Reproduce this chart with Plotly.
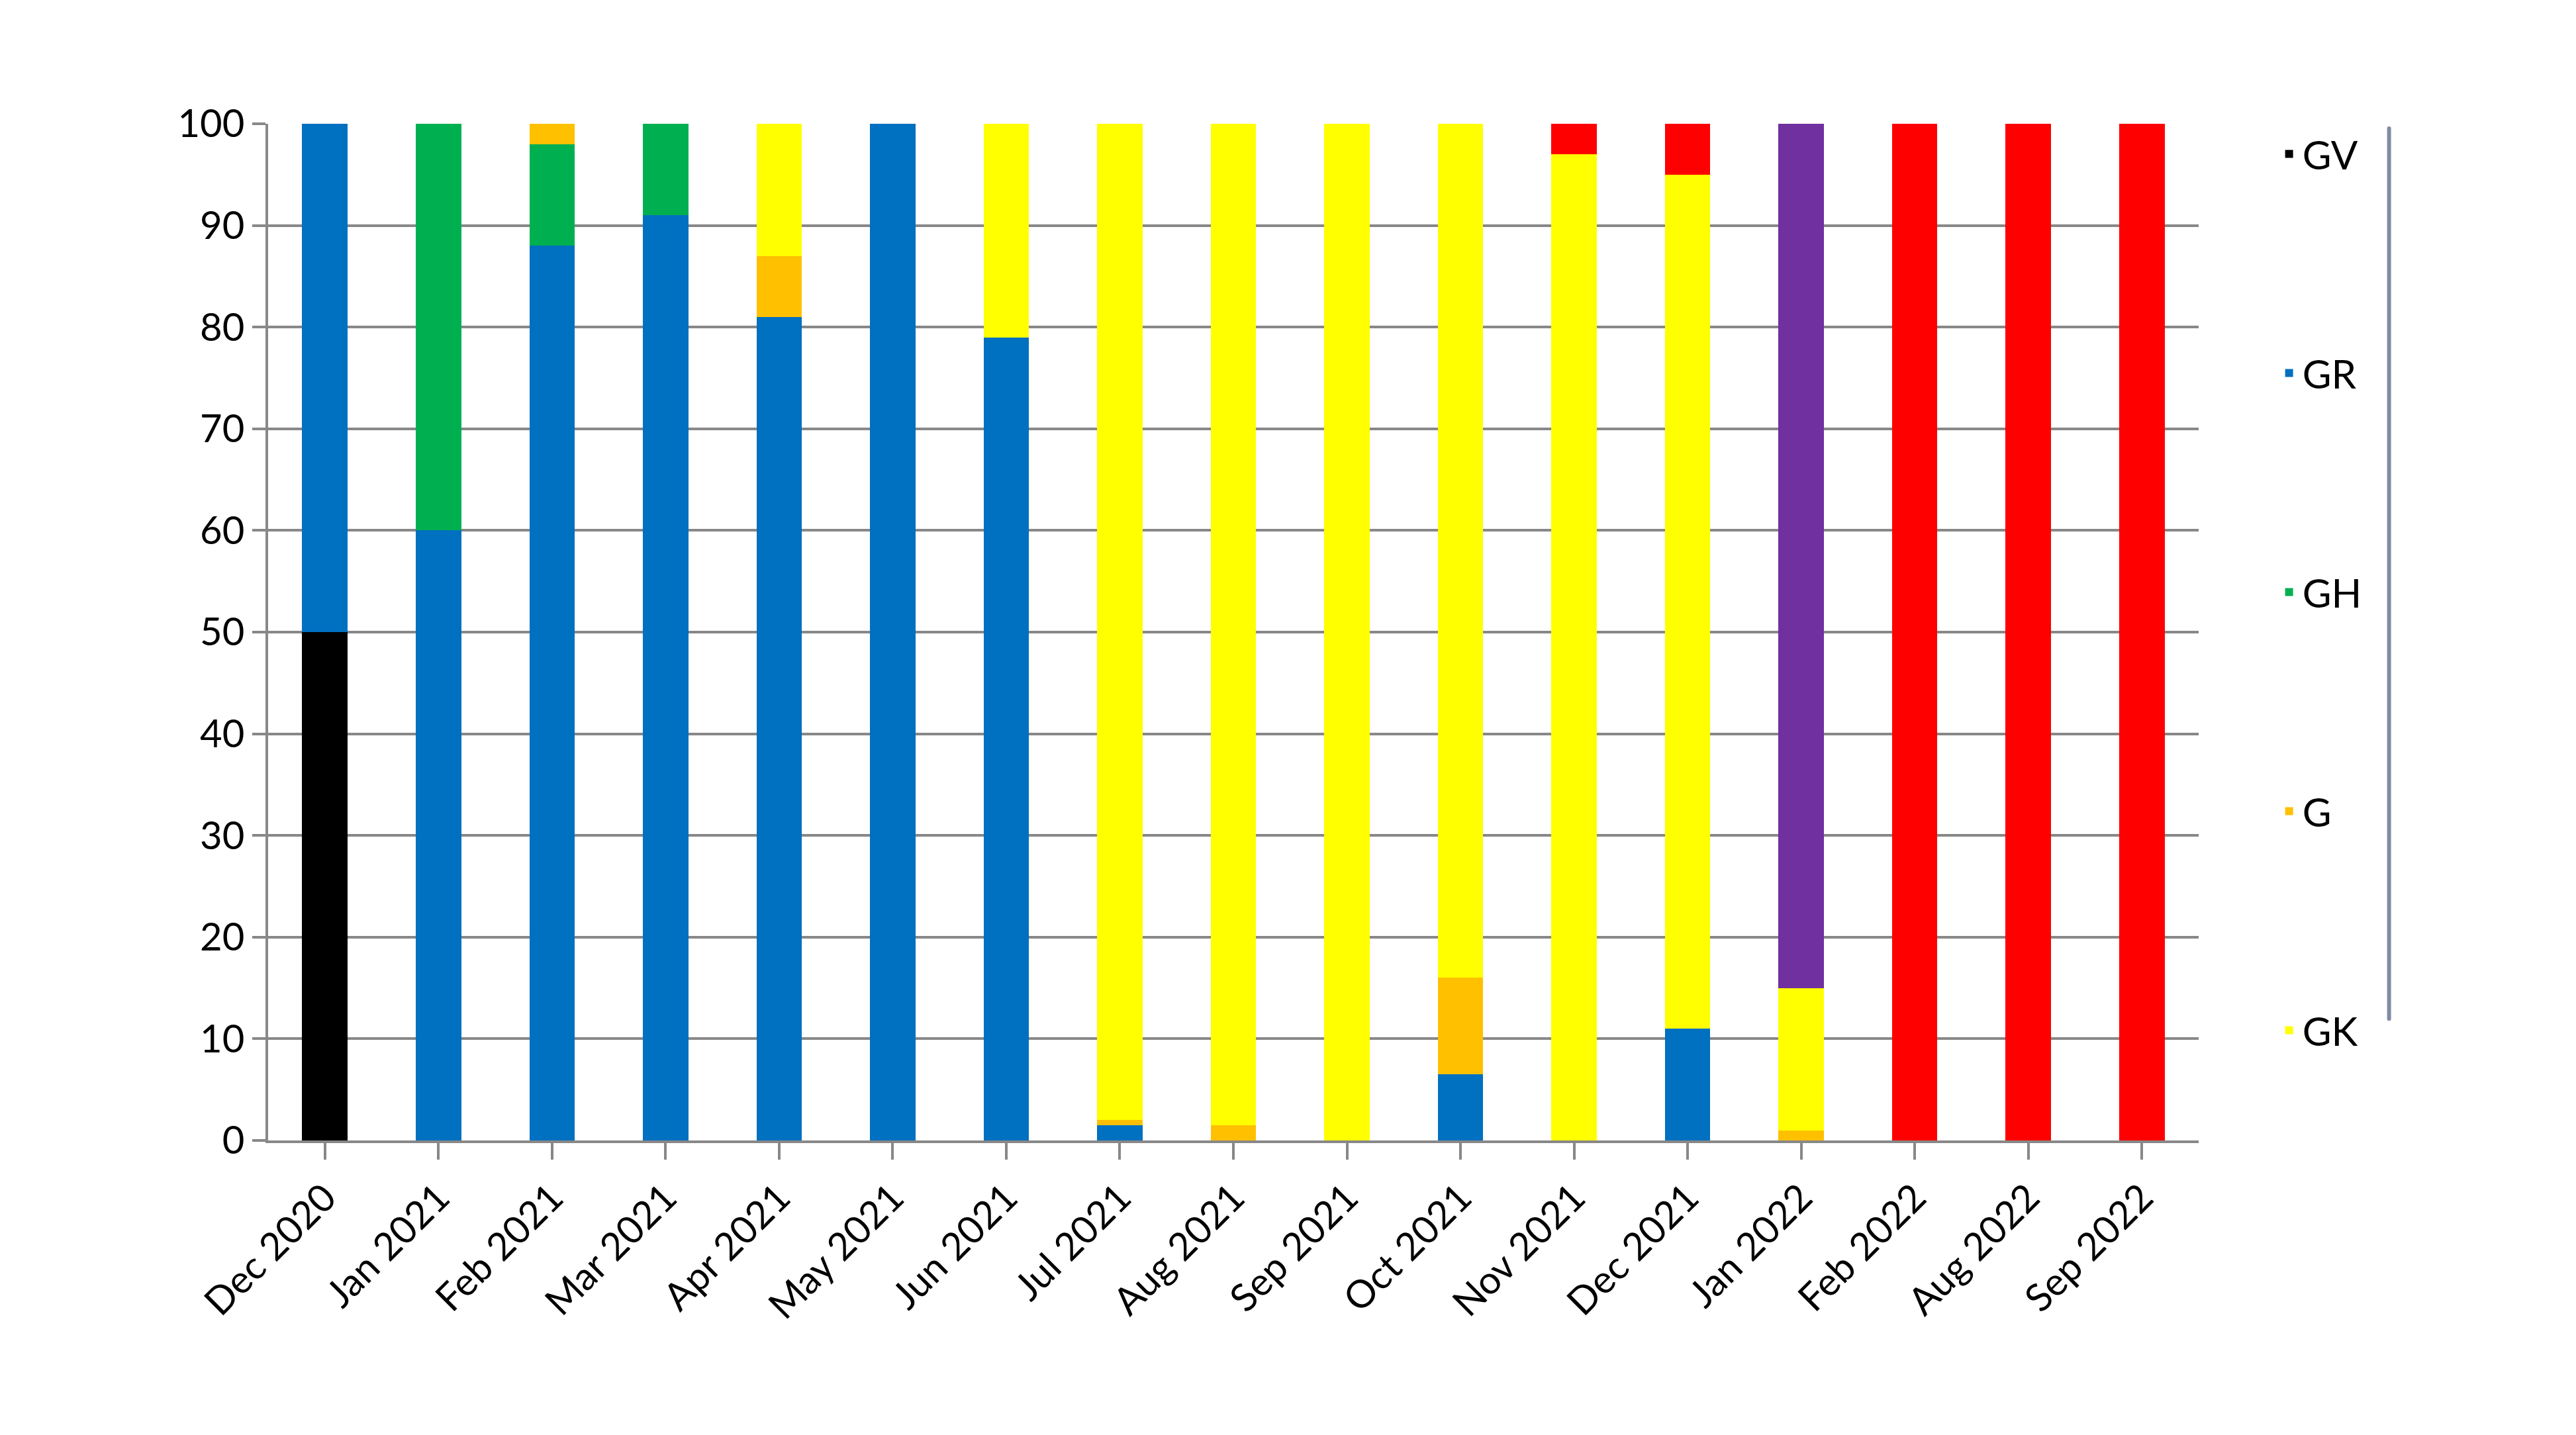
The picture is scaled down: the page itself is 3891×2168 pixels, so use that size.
import plotly.graph_objects as go

months = ["Dec 2020","Jan 2021","Feb 2021","Mar 2021","Apr 2021","May 2021","Jun 2021","Jul 2021",
          "Aug 2021","Sep 2021","Oct 2021","Nov 2021","Dec 2021","Jan 2022","Feb 2022","Aug 2022","Sep 2022"]
GV  = [50,0,0,0,0,0,0,0,0,0,0,0,0,0,0,0,0]
GR  = [50,60,88,91,81,100,79,1.5,0,0,6.5,0,11,0,0,0,0]
GH  = [0,40,10,9,0,0,0,0,0,0,0,0,0,0,0,0,0]
G   = [0,0,2,0,6,0,0,0.5,1.5,0,9.5,0,0,1,0,0,0]
GK  = [0,0,0,0,13,0,21,98,98.5,100,84,97,84,14,0,0,0]
GRA = [0,0,0,0,0,0,0,0,0,0,0,3,5,0,100,100,100]
OTHER = [0,0,0,0,0,0,0,0,0,0,0,0,0,85,0,0,0]

series = [("GV",GV,"#000000"),("GR",GR,"#0070C0"),("GH",GH,"#00B050"),
          ("G",G,"#FFC000"),("GK",GK,"#FFFF00"),("GRA",GRA,"#FF0000")]

fig = go.Figure()
for name, vals, col in series:
    fig.add_bar(x=months, y=vals, name=name, marker=dict(color=col, line=dict(width=0)),
                width=0.4, legendgroup=name)
fig.add_bar(x=months, y=OTHER, name="", marker=dict(color="#7030A0", line=dict(width=0)),
            width=0.4, showlegend=False)

fig.update_layout(
    barmode="stack", width=3891, height=2168, plot_bgcolor="white", paper_bgcolor="white",
    margin=dict(l=397, r=578, t=179, b=453),
    font=dict(family="Lato", size=58, color="black"),
    xaxis=dict(tickangle=-45, showline=True, linecolor="#888888", linewidth=4, ticks="outside",
               ticklen=25, tickcolor="#888888", tickwidth=4),
    yaxis=dict(range=[0,100], tickvals=list(range(0,101,10)), ticksuffix="%", showgrid=True,
               gridcolor="#888888", gridwidth=4, showline=True, linecolor="#888888", linewidth=4,
               ticks="outside", ticklen=20, tickcolor="#888888", tickwidth=4),
    legend=dict(x=1.04, y=1.0, yanchor="top", traceorder="reversed+grouped", tracegroupgap=250,
                font=dict(size=60), itemsizing="constant"),
    shapes=[dict(type="rect", xref="paper", yref="paper", x0=-0.33, x1=1.31, y0=-0.92, y1=1.18,
                 line=dict(color="#888888", width=4))],
)
fig.write_html("out.html")
